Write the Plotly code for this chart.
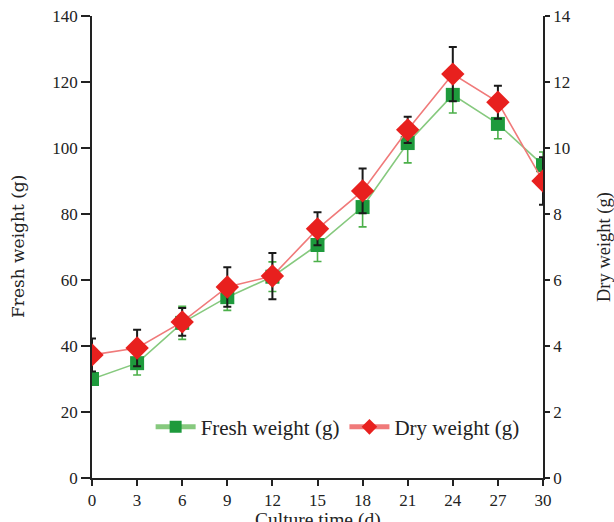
import plotly.graph_objects as go

days = [0, 3, 6, 9, 12, 15, 18, 21, 24, 27, 30]
fresh = [30.0, 34.8, 47.0, 54.8, 61.0, 70.6, 82.1, 101.5, 116.1, 107.3, 94.8]
fresh_err = [1.5, 3.6, 5.0, 4.0, 4.5, 5.0, 6.0, 6.0, 5.5, 4.5, 4.0]
dry = [3.73, 3.94, 4.73, 5.79, 6.12, 7.55, 8.70, 10.55, 12.24, 11.39, 9.00]
dry_err = [0.5, 0.55, 0.42, 0.6, 0.7, 0.5, 0.68, 0.4, 0.82, 0.5, 0.72]
x_ticks = [0, 3, 6, 9, 12, 15, 18, 21, 24, 27, 30]

FONT = "Liberation Serif, Times New Roman, serif"
AX = "#222222"
TXT = "#222222"
TICKFONT = dict(family=FONT, size=17, color=TXT)

fig = go.Figure()
fig.add_trace(go.Scatter(
    x=days, y=fresh, name="Fresh weight (g)", mode="lines+markers",
    line=dict(color="#86c97e", width=1.6),
    marker=dict(symbol="square", size=14, color="#1e9a3c"),
    error_y=dict(type="data", array=fresh_err, color="#4cb04a", thickness=1.6, width=4),
    yaxis="y",
))
fig.add_trace(go.Scatter(
    x=days, y=dry, name="Dry weight (g)", mode="lines+markers",
    line=dict(color="#f07a7a", width=1.6),
    marker=dict(symbol="diamond", size=18, color="#e8201e"),
    error_y=dict(type="data", array=dry_err, color="#1a1a1a", thickness=2, width=4),
    yaxis="y2",
))

fig.update_layout(
    width=614, height=522,
    margin=dict(l=92, r=71, t=16, b=44, autoexpand=False),
    paper_bgcolor="white", plot_bgcolor="white",
    font=dict(family=FONT, size=17, color=TXT),
    showlegend=True,
    legend=dict(
        orientation="h", x=0.13, y=0.11, xanchor="left", yanchor="middle",
        font=dict(family=FONT, size=21, color=TXT),
        bgcolor="rgba(0,0,0,0)", itemwidth=40, itemsizing="constant",
    ),
    xaxis=dict(
        range=[0, 30], tickvals=x_ticks, ticks="outside", ticklen=6, tickwidth=1.5,
        tickcolor=AX, showline=True, linecolor=AX, linewidth=1.5, showgrid=False,
        zeroline=False, tickfont=TICKFONT, automargin=False,
    ),
    yaxis=dict(
        range=[0, 140], dtick=20, ticks="outside", ticklen=9, tickwidth=1.5,
        tickcolor=AX, showline=True, linecolor=AX, linewidth=1.5, showgrid=False,
        zeroline=False, tickfont=TICKFONT, automargin=False,
    ),
    yaxis2=dict(
        range=[0, 14], dtick=2, overlaying="y", side="right", ticks="outside",
        ticklen=5, tickwidth=1.5, tickcolor=AX, showline=True, linecolor=AX,
        linewidth=1.5, showgrid=False, zeroline=False, tickfont=TICKFONT,
        automargin=False,
    ),
    annotations=[
        dict(text="Fresh weight (g)", xref="paper", yref="paper", x=0, y=0.5,
             xshift=-74, textangle=-90, showarrow=False, xanchor="center",
             yanchor="middle", font=dict(family="DejaVu Serif", size=17, color=TXT)),
        dict(text="Dry weight (g)", xref="paper", yref="paper", x=1, y=0.5,
             xshift=61, textangle=-90, showarrow=False, xanchor="center",
             yanchor="middle", font=dict(family=FONT, size=18.5, color=TXT)),
        dict(text="Culture time (d)", xref="paper", yref="paper", x=0.5, y=0,
             yshift=-29, showarrow=False, xanchor="center", yanchor="top",
             font=dict(family=FONT, size=19.5, color=TXT)),
    ],
)

fig.write_html("out.html")
